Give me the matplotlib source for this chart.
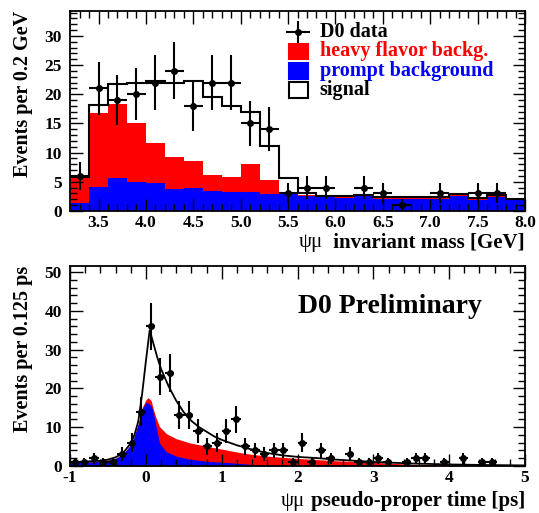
import numpy as np
import matplotlib
matplotlib.use('Agg')
import matplotlib.pyplot as plt
from matplotlib.patches import Rectangle
from matplotlib.offsetbox import TextArea, HPacker, AnchoredOffsetbox
from matplotlib.ticker import MultipleLocator, FormatStrFormatter

plt.rcParams['font.family'] = ['Liberation Serif', 'DejaVu Serif']
plt.rcParams['font.weight'] = 'bold'
plt.rcParams['axes.unicode_minus'] = False

# ---- top panel: psi-mu invariant mass, 0.2 GeV bins ----
mass_centers = [3.3, 3.5, 3.7, 3.9, 4.1, 4.3, 4.5, 4.7, 4.9, 5.1, 5.3, 5.5,
                5.7, 5.9, 6.1, 6.3, 6.5, 6.7, 6.9, 7.1, 7.3, 7.5, 7.7, 7.9]
mass_data = [6, 21, 19, 20, 22, 24, 18, 22, 22, 15, 14, 3,
             4, 4, 0, 4, 3, 1, 0, 3, 0, 3, 3, 0]
mass_prompt = [1.4, 4.1, 5.7, 5.0, 4.7, 3.8, 4.0, 3.4, 3.3, 3.3, 2.9, 3.0,
               2.5, 2.3, 2.2, 2.5, 2.1, 2.0, 2.1, 2.1, 2.6, 1.9, 2.4, 1.8]
mass_heavy = [4.2, 12.7, 12.6, 10.1, 7.0, 5.5, 4.5, 2.7, 2.5, 4.8, 2.4, 0.3,
              0.2, 0.15, 0.15, 0.15, 0.15, 0.15, 0.15, 0.15, 0.15, 0.15, 0.15, 0.15]
mass_signal = [0.2, 1.4, 3.4, 6.9, 10.6, 12.6, 13.8, 13.5, 12.1, 8.9, 5.9, 2.3,
               0.4, 0.15, 0.15, 0.15, 0.15, 0.15, 0.15, 0.15, 0.15, 0.15, 0.15, 0.15]

# ---- bottom panel: pseudo-proper time, 0.125 ps bins ----
time_centers = [-0.9375, -0.8125, -0.6875, -0.5625, -0.4375, -0.3125, -0.1875, -0.0625,
                0.0625, 0.1875, 0.3125, 0.4375, 0.5625, 0.6875, 0.8125, 0.9375,
                1.0625, 1.1875, 1.3125, 1.4375, 1.5625, 1.6875, 1.8125, 1.9375,
                2.0625, 2.1875, 2.3125, 2.4375, 2.5625, 2.6875, 2.8125, 2.9375,
                3.0625, 3.1875, 3.3125, 3.4375, 3.5625, 3.6875, 3.8125, 3.9375,
                4.0625, 4.1875, 4.3125, 4.4375, 4.5625, 4.6875, 4.8125, 4.9375]
time_data = [1, 1, 2, 1, 1, 3, 6, 14,
             36, 23, 24, 13, 13, 9, 5, 6,
             9, 12, 5, 4, 3, 4, 4, 1,
             6, 1, 4, 2, 0, 3, 1, 1,
             2, 1, 0, 1, 2, 2, 0, 1,
             0, 2, 0, 1, 1, 0, 0, 0]

# fit curves
fit_t = [-1.0, -0.8, -0.6, -0.5, -0.4, -0.3, -0.2, -0.15, -0.1, -0.05, 0.0, 0.05,
         0.1, 0.15, 0.2, 0.3, 0.4, 0.5, 0.6, 0.7, 0.8, 0.9, 1.0, 1.1, 1.2, 1.4,
         1.6, 1.8, 2.0, 2.25, 2.5, 2.75, 3.0, 3.5, 4.0, 4.5, 5.0]
fit_total = [0.9, 1.1, 1.3, 1.6, 2.2, 3.3, 5.8, 8.0, 11.5, 18.5, 27.0, 35.0,
             31.5, 28.0, 25.0, 20.5, 16.8, 13.8, 11.6, 10.0, 8.8, 7.6, 6.7, 6.0, 5.3, 4.2,
             3.3, 2.7, 2.3, 2.0, 1.6, 1.3, 1.0, 0.6, 0.35, 0.2, 0.1]

bkg_t = [-1.0, -0.8, -0.6, -0.5, -0.4, -0.3, -0.2, -0.15, -0.1, -0.05, 0.0, 0.03,
         0.07, 0.1, 0.13, 0.18, 0.27, 0.4, 0.58, 0.84, 1.11, 1.3, 1.6, 2.0,
         2.5, 3.0, 3.5, 4.0, 4.5, 5.0]
bkg_heavy_top = [0.8, 1.0, 1.2, 1.5, 2.0, 3.0, 5.5, 7.8, 11.0, 15.0, 17.0, 17.6,
                 16.8, 14.5, 12.6, 10.1, 8.3, 7.0, 5.9, 4.9, 3.9, 3.2, 2.5, 1.9,
                 1.3, 0.9, 0.4, 0.15, 0.05, 0.0]
bkg_prompt = [0.8, 0.9, 1.1, 1.4, 1.9, 3.0, 5.4, 7.6, 10.8, 14.5, 16.4, 16.2,
              15.5, 13.5, 10.5, 5.8, 3.6, 2.5, 1.7, 1.1, 0.8, 0.5, 0.1, 0.0,
              0.0, 0.0, 0.0, 0.0, 0.0, 0.0]

legend_labels = ['D0 data', 'heavy flavor backg.', 'prompt background', 'signal']
legend_colors = ['black', '#ff0000', '#0000ff', 'black']


def style_axis(ax):
    ax.tick_params(which='both', direction='in', top=True, right=True,
                   labelsize=12.5, width=1.0)
    ax.tick_params(axis='y', pad=6)
    ax.tick_params(axis='x', pad=3)
    ax.tick_params(which='major', length=9)
    ax.tick_params(which='minor', length=5)
    for sp in ax.spines.values():
        sp.set_linewidth(1.3)
    for lab in ax.get_xticklabels() + ax.get_yticklabels():
        lab.set_fontweight('bold')


def greek_xlabel(ax, text, y):
    # psi-mu in plain weight, the rest in bold, right-aligned under the axis
    parts = [TextArea('ψμ', textprops=dict(fontsize=15, fontweight='normal')),
             TextArea(text, textprops=dict(fontsize=15, fontweight='bold'))]
    pack = HPacker(children=parts, align='baseline', pad=0, sep=4)
    box = AnchoredOffsetbox(loc='upper right', child=pack, pad=0, borderpad=0,
                            frameon=False, bbox_to_anchor=(1.0, y),
                            bbox_transform=ax.transAxes)
    ax.add_artist(box)


fig = plt.figure(figsize=(5.39, 5.13), dpi=100)
ax1 = fig.add_axes([0.130, 0.589, 0.844, 0.390])
ax2 = fig.add_axes([0.130, 0.092, 0.844, 0.389])

# top panel
centers = np.array(mass_centers)
edges = np.append(centers - 0.1, centers[-1] + 0.1)
prompt = np.array(mass_prompt)
heavy_top = prompt + np.array(mass_heavy)
total = heavy_top + np.array(mass_signal)

ax1.stairs(heavy_top, edges, fill=True, color='#ff0000', lw=0)
ax1.stairs(prompt, edges, fill=True, color='#0000ff', lw=0)
ax1.stairs(total, edges, color='black', lw=1.5, baseline=None)

n = np.array(mass_data)
keep = n > 0
ax1.errorbar(centers[keep], n[keep], xerr=0.1, yerr=np.sqrt(n[keep]), fmt='o',
             color='black', ms=4, elinewidth=1.5, capsize=0)

ax1.set_xlim(3.2, 8.0)
ax1.set_ylim(0, 34.3)
ax1.set_xticks([3.5, 4.0, 4.5, 5.0, 5.5, 6.0, 6.5, 7.0, 7.5, 8.0])
ax1.xaxis.set_minor_locator(MultipleLocator(0.1))
ax1.yaxis.set_major_locator(MultipleLocator(5))
ax1.yaxis.set_minor_locator(MultipleLocator(1))
ax1.xaxis.set_major_formatter(FormatStrFormatter('%.1f'))
style_axis(ax1)
ax1.set_ylabel('Events per 0.2 GeV', fontsize=14.5, fontweight='bold', loc='top')
ax1.yaxis.set_label_coords(-0.081, 1.0)
greek_xlabel(ax1, ' invariant mass [GeV]', -0.108)

# legend drawn by hand, rows in axes fractions
row_y = [0.895, 0.797, 0.700, 0.604]
box_x0, box_w, box_h = 0.481, 0.041, 0.078
for i, (lab, col) in enumerate(zip(legend_labels, legend_colors)):
    y = row_y[i]
    if i == 0:
        ax1.plot([box_x0 - 0.004, box_x0 + box_w + 0.004], [y, y], color='black',
                 lw=1.5, transform=ax1.transAxes, clip_on=False)
        ax1.plot([box_x0 + box_w / 2] * 2, [y - 0.05, y + 0.05], color='black',
                 lw=1.5, transform=ax1.transAxes, clip_on=False)
        ax1.plot([box_x0 + box_w / 2], [y], 'o', color='black', ms=4,
                 transform=ax1.transAxes)
    else:
        face = col if i < 3 else 'white'
        ax1.add_patch(Rectangle((box_x0, y - box_h / 2), box_w, box_h,
                                transform=ax1.transAxes, facecolor=face,
                                edgecolor='black' if i == 3 else face, lw=1.5))
    ax1.text(0.549, y, lab, transform=ax1.transAxes, color=col, fontsize=14.5,
             fontweight='bold', va='center', ha='left')

# bottom panel
ax2.fill_between(bkg_t, bkg_heavy_top, color='#ff0000', lw=0)
ax2.fill_between(bkg_t, bkg_prompt, color='#0000ff', lw=0)
ax2.plot(fit_t, fit_total, color='black', lw=1.3)

tc = np.array(time_centers)
tn = np.array(time_data)
keep = tn > 0
ax2.errorbar(tc[keep], tn[keep], xerr=0.0625, yerr=np.sqrt(tn[keep]), fmt='o',
             color='black', ms=4, elinewidth=1.5, capsize=0)

ax2.set_xlim(-1, 5)
ax2.set_ylim(0, 51.5)
ax2.xaxis.set_major_locator(MultipleLocator(1))
ax2.xaxis.set_minor_locator(MultipleLocator(0.2))
ax2.yaxis.set_major_locator(MultipleLocator(10))
ax2.yaxis.set_minor_locator(MultipleLocator(2))
style_axis(ax2)
ax2.set_ylabel('Events per 0.125 ps', fontsize=14.5, fontweight='bold', loc='top')
ax2.yaxis.set_label_coords(-0.081, 1.0)
greek_xlabel(ax2, 'pseudo-proper time [ps]', -0.125)
ax2.text(0.703, 0.797, 'D0 Preliminary', transform=ax2.transAxes, ha='center',
         va='center', fontsize=20, fontweight='bold')

fig.savefig('out.png', dpi=100)
